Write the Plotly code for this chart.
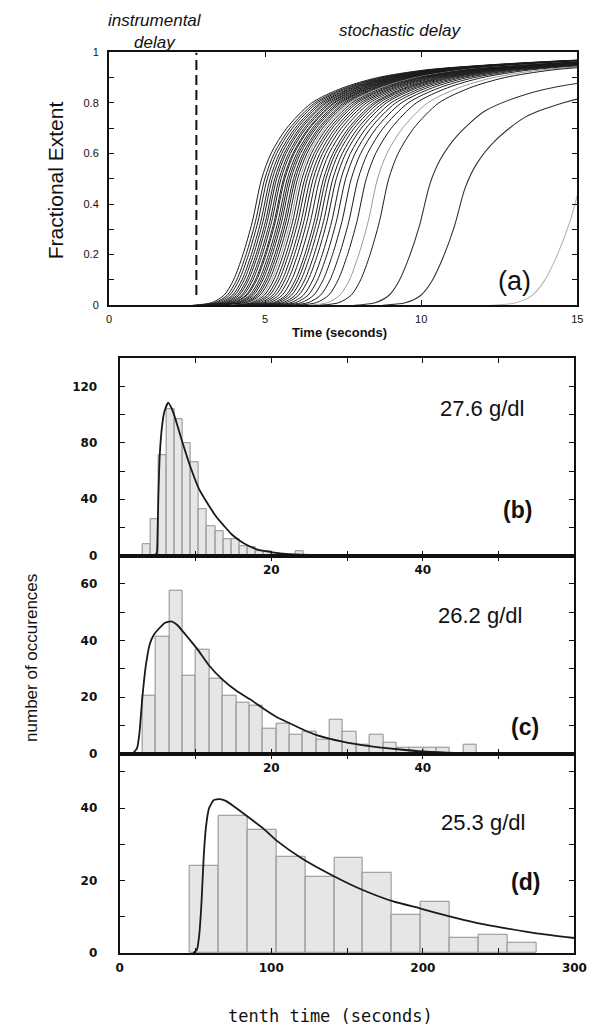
import plotly.graph_objects as go

W, H = 602, 1033

# ---------------- panel (a): progress curves ----------------
# shape of a single progress curve, relative to its half-time (seconds)
master_tau = [-2.2, -1.6, -1.2, -0.9, -0.6, -0.3, 0.0, 0.3, 0.8, 1.6, 2.6, 3.7, 5.2, 7.2, 10.2, 12.0]
master_extent = [0.0, 0.01, 0.04, 0.10, 0.20, 0.33, 0.50, 0.60, 0.70, 0.80, 0.86, 0.90, 0.93, 0.95, 0.97, 0.975]

# half-times of the main bundle of traces (s)
half_times = [4.89, 4.99, 5.07, 5.16, 5.23, 5.31, 5.37, 5.45, 5.51, 5.59, 5.63, 5.71,
              5.77, 5.83, 5.91, 5.97, 6.04, 6.11, 6.18, 6.27, 6.35, 6.45, 6.54, 6.64,
              6.75, 6.87, 6.95, 7.05, 7.17, 7.28, 7.43, 7.58, 7.76, 7.98, 8.24, 8.60, 8.96]
pale_half_times = [6.11, 8.60]

# slow, late traces: half-time, time stretch, plateau
late_half_times = [10.28, 11.41, 15.16]
late_stretch = [1.10, 1.20, 1.33]
late_plateau = [0.96, 0.93, 1.00]
late_colours = ["#333333", "#333333", "#b5b5b5"]

instrumental_delay = 2.8

# ---------------- histograms of tenth times ----------------
b_start, b_width = 3.03, 1.064
b_counts = [8.2, 25.7, 71, 104, 97, 80, 66.5, 32.7, 21, 17.5, 11.7, 11.7, 7, 6,
            3.5, 3.5, 1.5, 1, 0, 3.5]
b_fit_x = [4.6, 4.9, 5.0, 5.1, 5.3, 5.6, 5.9, 6.4, 6.9, 7.3, 8.3, 9.4, 10.5, 11.6,
           12.7, 13.8, 14.8, 15.9, 17.0, 18.0, 20.2, 21.9, 25.0, 30.0]
b_fit_y = [0, 2, 15, 40, 72, 92, 102, 108.5, 104, 98, 80, 62, 47, 37, 28, 21, 15,
           10.5, 7, 4.7, 2.4, 1.2, 0.5, 0.2]

c_start, c_width = 3.03, 1.763
c_counts = [20.6, 41.5, 57.8, 27.6, 36.8, 26.4, 20.6, 18.2, 17.1, 8.9, 10.7, 6.6,
            7.8, 4.9, 11.9, 7.8, 3.1, 6.6, 3.9, 2, 2, 2, 2, 0, 3.1]
c_fit_x = [1.7, 2.3, 2.6, 3.0, 3.5, 4.0, 4.5, 5.1, 6.0, 6.8, 7.6, 8.5, 9.4, 10.3,
           11.8, 13.5, 15.4, 17.1, 19.0, 20.7, 22.5, 24.3, 26.0, 29.4, 33.0, 36.7,
           40.1, 44.3, 50.0, 60.0]
c_fit_y = [0, 2, 7, 20, 32, 39, 42, 44, 46.3, 46.8, 45.5, 42.7, 39.8, 36.8, 31.2,
           26.4, 22.3, 19.4, 15.9, 13, 10.7, 8.4, 6.6, 4.3, 2.7, 1.6, 0.8, 0.3, 0.1, 0]

d_start, d_width = 46.0, 19.1
d_counts = [24.1, 37.9, 34.0, 26.6, 21.1, 26.3, 22.2, 10.5, 14.2, 4.4, 5.1, 3.0]
d_fit_x = [48.5, 51, 52.5, 54, 55.5, 57, 59, 62, 66, 70, 75, 85, 95, 104, 120, 142,
           160, 181, 198, 217, 236, 256, 275, 300]
d_fit_y = [0, 1, 5, 14, 27, 35, 40, 42.2, 42.5, 42, 40.6, 37.5, 34.3, 30.9, 26.2,
           21.1, 17.5, 14.2, 12.4, 10.2, 8.3, 6.8, 5.5, 4.2]

concentrations = ["27.6 g/dl", "26.2 g/dl", "25.3 g/dl"]


def px_x(p):
    return p / W


def px_y(p):
    return 1 - p / H


fig = go.Figure()

# progress curves
for t50 in half_times:
    colour = "#9a9a9a" if t50 in pale_half_times else "#1c1c1c"
    fig.add_trace(go.Scatter(
        x=[t50 + tau for tau in master_tau], y=master_extent,
        mode="lines", line=dict(color=colour, width=1, shape="spline", smoothing=0.8),
        xaxis="x", yaxis="y", showlegend=False, hoverinfo="skip"))
for t50, s, p, col in zip(late_half_times, late_stretch, late_plateau, late_colours):
    fig.add_trace(go.Scatter(
        x=[t50 + s * tau for tau in master_tau], y=[p * e for e in master_extent],
        mode="lines", line=dict(color=col, width=1.1, shape="spline", smoothing=0.8),
        xaxis="x", yaxis="y", showlegend=False, hoverinfo="skip"))

# instrumental delay marker
fig.add_trace(go.Scatter(
    x=[instrumental_delay, instrumental_delay], y=[0.04, 1.0], mode="lines",
    line=dict(color="#111111", width=2, dash="10px,5px"),
    xaxis="x", yaxis="y", showlegend=False, hoverinfo="skip"))

# histograms + fits
hists = [
    (b_start, b_width, b_counts, b_fit_x, b_fit_y, "x2", "y2"),
    (c_start, c_width, c_counts, c_fit_x, c_fit_y, "x3", "y3"),
    (d_start, d_width, d_counts, d_fit_x, d_fit_y, "x4", "y4"),
]
for start, width, counts, fx, fy, xa, ya in hists:
    centers = [start + width * (i + 0.5) for i in range(len(counts))]
    fig.add_trace(go.Bar(
        x=centers, y=counts, width=width,
        marker=dict(color="#e6e6e6", line=dict(color="#8f8f8f", width=1)),
        xaxis=xa, yaxis=ya, showlegend=False, hoverinfo="skip"))
    fig.add_trace(go.Scatter(
        x=fx, y=fy, mode="lines",
        line=dict(color="#1a1a1a", width=1.8, shape="spline", smoothing=0.5),
        xaxis=xa, yaxis=ya, showlegend=False, hoverinfo="skip"))

frame = dict(showline=True, linecolor="#111111", linewidth=2, mirror="allticks",
             ticks="inside", ticklen=5, tickcolor="#111111", tickwidth=1.2,
             showgrid=False, zeroline=False, fixedrange=True)

font_a = dict(family="Liberation Sans, Arial, sans-serif", size=11, color="#111111")
font_h = dict(family="DejaVu Sans, sans-serif", size=12, color="#111111", weight="bold")

hist_x = [119, 587]
hist_rows = [(356.7, 556.7), (556.7, 757.3), (757.3, 959.3)]


def labels(vals, shown):
    return [str(v) if v in shown else "" for v in vals]


layout = dict(
    width=W, height=H, margin=dict(l=0, r=0, t=0, b=0),
    paper_bgcolor="white", plot_bgcolor="white", bargap=0,
    xaxis=dict(frame, domain=[px_x(108), px_x(590)], range=[0, 15], anchor="y",
               tickvals=[0, 5, 10, 15], tickfont=font_a, ticklabelstandoff=3),
    yaxis=dict(frame, domain=[px_y(303), px_y(47)], range=[0, 1], anchor="x",
               tickvals=[0, 0.2, 0.4, 0.6, 0.8, 1],
               ticktext=["0", "0.2", "0.4", "0.6", "0.8", "1"],
               minor=dict(dtick=0.1, ticks="inside", ticklen=5, tickcolor="#111111"),
               tickfont=font_a, ticklabelstandoff=6),
)

b_vals = list(range(0, 141, 20))
c_vals = list(range(0, 71, 10))
d_vals = list(range(0, 51, 10))
x_small = list(range(0, 61, 10))
x_large = list(range(0, 301, 50))
y_specs = [
    (140, b_vals, labels(b_vals, [0, 40, 80, 120])),
    (70, c_vals, labels(c_vals, [0, 20, 40, 60])),
    (55, d_vals, labels(d_vals, [0, 20, 40])),
]
x_specs = [
    (60, x_small, labels(x_small, [20, 40])),
    (60, x_small, labels(x_small, [20, 40])),
    (300, x_large, labels(x_large, [0, 100, 200, 300])),
]
for k, ((top, bottom), (ymax, yv, yt), (xmax, xv, xt)) in enumerate(zip(hist_rows, y_specs, x_specs)):
    n = k + 2
    layout[f"xaxis{n}"] = dict(frame, domain=[px_x(hist_x[0]), px_x(hist_x[1])],
                               range=[0, xmax], anchor=f"y{n}", tickvals=xv, ticktext=xt,
                               tickfont=font_h, ticklabelstandoff=2)
    layout[f"yaxis{n}"] = dict(frame, domain=[px_y(bottom), px_y(top)],
                               range=[0, ymax], anchor=f"x{n}", tickvals=yv, ticktext=yt,
                               tickfont=font_h, ticklabelstandoff=18)

fig.update_layout(**layout)


def note(text, x, y, size, family="Liberation Sans, Arial, sans-serif", italic=False,
         bold=False, angle=0):
    fig.add_annotation(
        text=text, x=px_x(x), y=px_y(y), xref="paper", yref="paper",
        showarrow=False, textangle=angle, xanchor="center", yanchor="middle",
        font=dict(family=family, size=size, color="#111111",
                  style="italic" if italic else "normal",
                  weight="bold" if bold else "normal"))


note("instrumental", 155, 15, 17, italic=True)
note("delay", 155, 37, 17, italic=True)
note("stochastic delay", 407, 25, 17, italic=True)
note("Fractional Extent", 53, 177, 21, angle=-90)
note("Time (seconds)", 345, 331, 13, bold=True)
note("(a)", 525, 278, 27)
note("(b)", 528, 510, 23, bold=True)
note("(c)", 536, 730, 23, bold=True)
note("(d)", 537, 887, 23, bold=True)
note(concentrations[0], 492, 408, 22)
note(concentrations[1], 490, 617, 22)
note(concentrations[2], 493, 827, 22)
note("number of occurences", 28, 660, 17, angle=-90)
note("tenth time (seconds)", 336, 1023, 17, family="DejaVu Sans Mono, monospace")

fig.write_html("out.html")
